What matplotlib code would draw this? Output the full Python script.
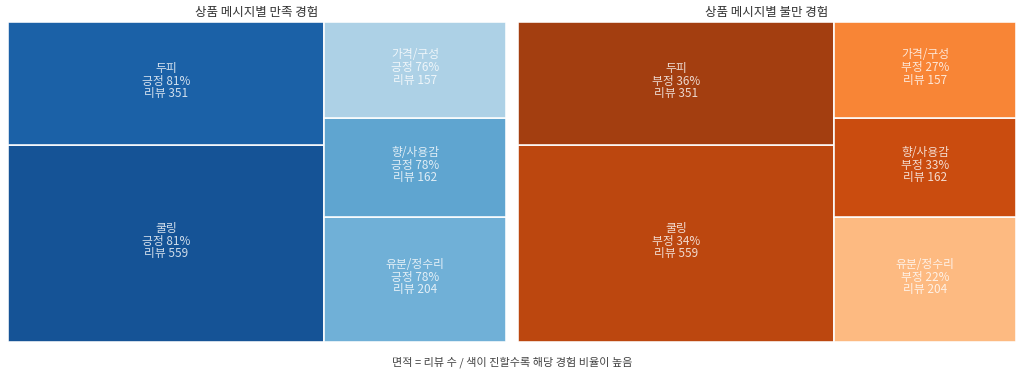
import matplotlib
matplotlib.use("Agg")
import matplotlib.pyplot as plt
from matplotlib.patches import Rectangle
from matplotlib.colors import Normalize

plt.rcParams['font.family'] = ['Noto Sans CJK KR', 'DejaVu Sans']

categories = ['쿨링', '두피', '유분/정수리', '향/사용감', '가격/구성']
reviews = [559, 351, 204, 162, 157]
pos_pct = [81.4, 80.9, 77.9, 78.4, 76.4]
neg_pct = [34.2, 36.0, 22.1, 33.3, 27.4]


def layout_row(sizes, x, y, dx, dy):
    width = sum(sizes) / dy
    rects = []
    for s in sizes:
        rects.append((x, y, width, s / width))
        y += s / width
    return rects


def layout_col(sizes, x, y, dx, dy):
    height = sum(sizes) / dx
    rects = []
    for s in sizes:
        rects.append((x, y, s / height, height))
        x += s / height
    return rects


def layout(sizes, x, y, dx, dy):
    return layout_row(sizes, x, y, dx, dy) if dx >= dy else layout_col(sizes, x, y, dx, dy)


def leftover(sizes, x, y, dx, dy):
    if dx >= dy:
        w = sum(sizes) / dy
        return x + w, y, dx - w, dy
    h = sum(sizes) / dx
    return x, y + h, dx, dy - h


def worst(sizes, x, y, dx, dy):
    return max(max(w / h, h / w) for _, _, w, h in layout(sizes, x, y, dx, dy))


def squarify(sizes, x, y, dx, dy):
    if not sizes:
        return []
    if len(sizes) == 1:
        return layout(sizes, x, y, dx, dy)
    i = 1
    while i < len(sizes) and worst(sizes[:i], x, y, dx, dy) >= worst(sizes[:i + 1], x, y, dx, dy):
        i += 1
    cur, rest = sizes[:i], sizes[i:]
    return layout(cur, x, y, dx, dy) + squarify(rest, *leftover(cur, x, y, dx, dy))


# layout on a 100x100 square, then stretched by the axes
S = 100.0
total = float(sum(reviews))
norm_sizes = [v * S * S / total for v in reviews]
rects = squarify(norm_sizes, 0, 0, S, S)

fig = plt.figure(figsize=(10.24, 3.75), dpi=100)
panels = [
    (8, pos_pct, 'Blues', '긍정', '상품 메시지별 만족 경험'),
    (518, neg_pct, 'Oranges', '부정', '상품 메시지별 불만 경험'),
]
for left, pcts, cmap_name, word, title in panels:
    ax = fig.add_axes([left / 1024, 33 / 375, 498 / 1024, 320 / 375])
    cmap = plt.get_cmap(cmap_name)
    norm = Normalize(min(pcts), max(pcts))
    for (rx, ry, rw, rh), name, n, p in zip(rects, categories, reviews, pcts):
        c = cmap(0.34 + 0.56 * norm(p))
        ax.add_patch(Rectangle((rx, ry), rw, rh, facecolor=c, edgecolor='white',
                               linewidth=1.2, alpha=0.95))
        ax.text(rx + rw / 2, ry + rh / 2 + 0.8, f'{name}\n{word} {p:.0f}%\n리뷰 {n}',
                ha='center', va='center', fontsize=8.5, color='white', alpha=0.8,
                linespacing=0.98)
    ax.set_xlim(0, S)
    ax.set_ylim(0, S)
    ax.axis('off')
    ax.set_title(title, fontsize=9, color='#333333', pad=4)

fig.text(0.5, 1 - 362 / 375, '면적 = 리뷰 수 / 색이 진할수록 해당 경험 비율이 높음',
         ha='center', va='center', fontsize=8, color='#444444')

fig.savefig('out.png', dpi=100)
